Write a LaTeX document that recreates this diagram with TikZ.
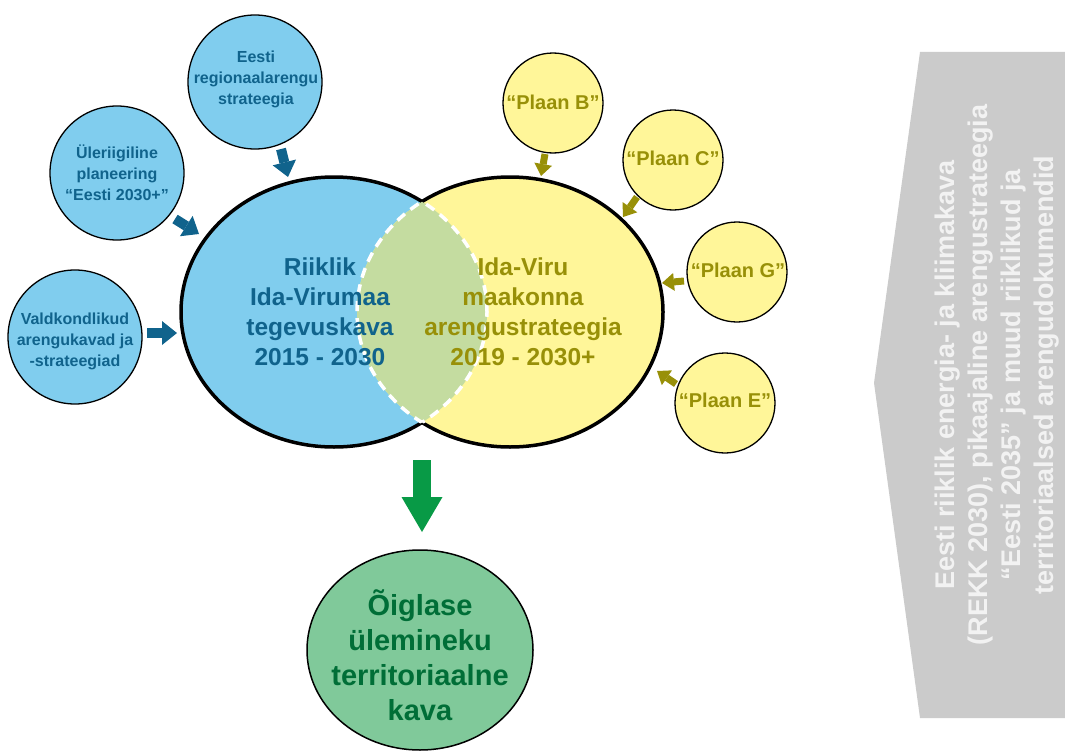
\documentclass[tikz,border=0pt]{standalone}
\usepackage{fontspec}
\setmainfont{Liberation Sans}
\usetikzlibrary{arrows.meta,shapes.geometric}
\definecolor{blueF}{RGB}{128,205,238}
\definecolor{blueT}{RGB}{16,99,140}
\definecolor{yelF}{RGB}{255,246,153}
\definecolor{oliveT}{RGB}{152,144,8}
\definecolor{lensG}{RGB}{196,220,160}
\definecolor{greenF}{RGB}{128,201,154}
\definecolor{greenT}{RGB}{0,110,55}
\definecolor{greenA}{RGB}{8,154,70}
\definecolor{grayF}{RGB}{203,203,203}
\definecolor{grayT}{RGB}{242,242,242}
\begin{document}
\begin{tikzpicture}[x=1pt,y=-1pt,
  smallB/.style={circle, draw=black, line width=1.3pt, fill=blueF, minimum size=134pt, inner sep=0pt},
  smallY/.style={circle, draw=black, line width=1.3pt, fill=yelF, minimum size=100pt, inner sep=0pt},
  btxt/.style={text=blueT, font=\bfseries\fontsize{16}{21}\selectfont, align=center, inner sep=0pt},
  ytxt/.style={text=oliveT, font=\bfseries\fontsize{20}{24}\selectfont, inner sep=0pt},
  bigtxt/.style={font=\bfseries\fontsize{24.5}{30}\selectfont, align=center, inner sep=0pt},
  barrow/.style={draw=blueT, line width=10pt, -{Triangle[width=24pt,length=15pt,line width=0pt]}},
  yarrow/.style={draw=oliveT, line width=7pt, -{Triangle[width=18pt,length=12pt,line width=0pt]}},
  bigell/.style={ellipse, minimum width=306pt, minimum height=270pt, inner sep=0pt}
]
\useasboundingbox (0,0) rectangle (1065,752);

% gray side chevron
\path[fill=grayF] (920,52) -- (1065,52) -- (1065,718) -- (920,718) -- (874,383) -- cycle;
\node[rotate=90, text=grayT, font=\bfseries\fontsize{27}{33}\selectfont, align=center, inner sep=0pt] (side) at (997,375)
  {Eesti riiklik energia- ja kliimakava\\(REKK 2030), pikaajaline arengustrateegia\\“Eesti 2035” ja muud riiklikud ja\\territoriaalsed arengudokumendid};

% big ellipses
\node[bigell, fill=blueF] (riik) at (334,312) {};
\node[bigell, fill=yelF] (maak) at (510,312) {};
\begin{scope}
  \clip (334,312) ellipse [x radius=153pt, y radius=135pt];
  \fill[lensG] (510,312) ellipse [x radius=153pt, y radius=135pt];
\end{scope}
\begin{scope}[even odd rule]
  \clip (-10,-10) rectangle (1075,762) (510,312) ellipse [x radius=153pt, y radius=135pt];
  \draw[black, line width=3.5pt] (334,312) ellipse [x radius=153pt, y radius=135pt];
\end{scope}
\begin{scope}[even odd rule]
  \clip (-10,-10) rectangle (1075,762) (334,312) ellipse [x radius=153pt, y radius=135pt];
  \draw[black, line width=3.5pt] (510,312) ellipse [x radius=153pt, y radius=135pt];
\end{scope}
\begin{scope}
  \clip (334,312) ellipse [x radius=153pt, y radius=135pt];
  \draw[white, line width=3.5pt, dash pattern=on 10pt off 7pt] (510,312) ellipse [x radius=153pt, y radius=135pt];
\end{scope}
\begin{scope}
  \clip (510,312) ellipse [x radius=153pt, y radius=135pt];
  \draw[white, line width=3.5pt, dash pattern=on 10pt off 7pt] (334,312) ellipse [x radius=153pt, y radius=135pt];
\end{scope}
\node[bigtxt, text=blueT] (riiktxt) at (320,312) {Riiklik\\Ida-Virumaa\\tegevuskava\\2015 - 2030};
\node[bigtxt, text=oliveT] (maaktxt) at (523,312) {Ida-Viru\\maakonna\\arengustrateegia\\2019 - 2030+};

% blue small circles
\node[smallB] (eesti) at (255,82) {};
\node[btxt] (eestitxt) at (256,79) {Eesti\\regionaalarengu\\strateegia};
\node[smallB] (yle) at (117,173) {};
\node[btxt] (yletxt) at (117,173) {Üleriigiline\\planeering\\“Eesti 2030+”};
\node[smallB] (vald) at (75,337) {};
\node[btxt] (valdtxt) at (75,341) {Valdkondlikud\\arengukavad ja\\-strateegiad};

\coordinate (a1s) at (281,149); \coordinate (a1e) at (288,177);
\coordinate (a2s) at (175,219); \coordinate (a2e) at (199,234);
\coordinate (a3s) at (147,333); \coordinate (a3e) at (177,333);
\draw[barrow] (a1s) -- (a1e);
\draw[barrow] (a2s) -- (a2e);
\draw[barrow] (a3s) -- (a3e);

% yellow small circles
\node[smallY] (pb) at (553,103) {};
\node[ytxt] (pbt) at (553,102) {“Plaan B”};
\node[smallY] (pc) at (673,160) {};
\node[ytxt] (pct) at (673,158) {“Plaan C”};
\node[smallY] (pg) at (737,272) {};
\node[ytxt] (pgt) at (738,270) {“Plaan G”};
\node[smallY] (pe) at (725,403) {};
\node[ytxt] (pet) at (725,400) {“Plaan E”};

\coordinate (b1s) at (545,154); \coordinate (b1e) at (541,176);
\coordinate (b2s) at (637,197); \coordinate (b2e) at (623,217);
\coordinate (b3s) at (684,281); \coordinate (b3e) at (662,283);
\coordinate (b4s) at (676,384); \coordinate (b4e) at (657,371);
\draw[yarrow] (b1s) -- (b1e);
\draw[yarrow] (b2s) -- (b2e);
\draw[yarrow] (b3s) -- (b3e);
\draw[yarrow] (b4s) -- (b4e);

% green arrow and bottom ellipse
\coordinate (gs) at (422,460); \coordinate (ge) at (422,532);
\draw[draw=greenA, line width=18pt, -{Triangle[width=41pt,length=35pt,line width=0pt]}] (gs) -- (ge);
\node[ellipse, draw=black, line width=1.5pt, fill=greenF, minimum width=226pt, minimum height=200pt, inner sep=0pt] (otk) at (420,650) {};
\node[text=greenT, font=\bfseries\fontsize{29}{35}\selectfont, align=center, inner sep=0pt] (otktxt) at (420,655) {Õiglase\\ülemineku\\territoriaalne\\kava};
\end{tikzpicture}
\end{document}
